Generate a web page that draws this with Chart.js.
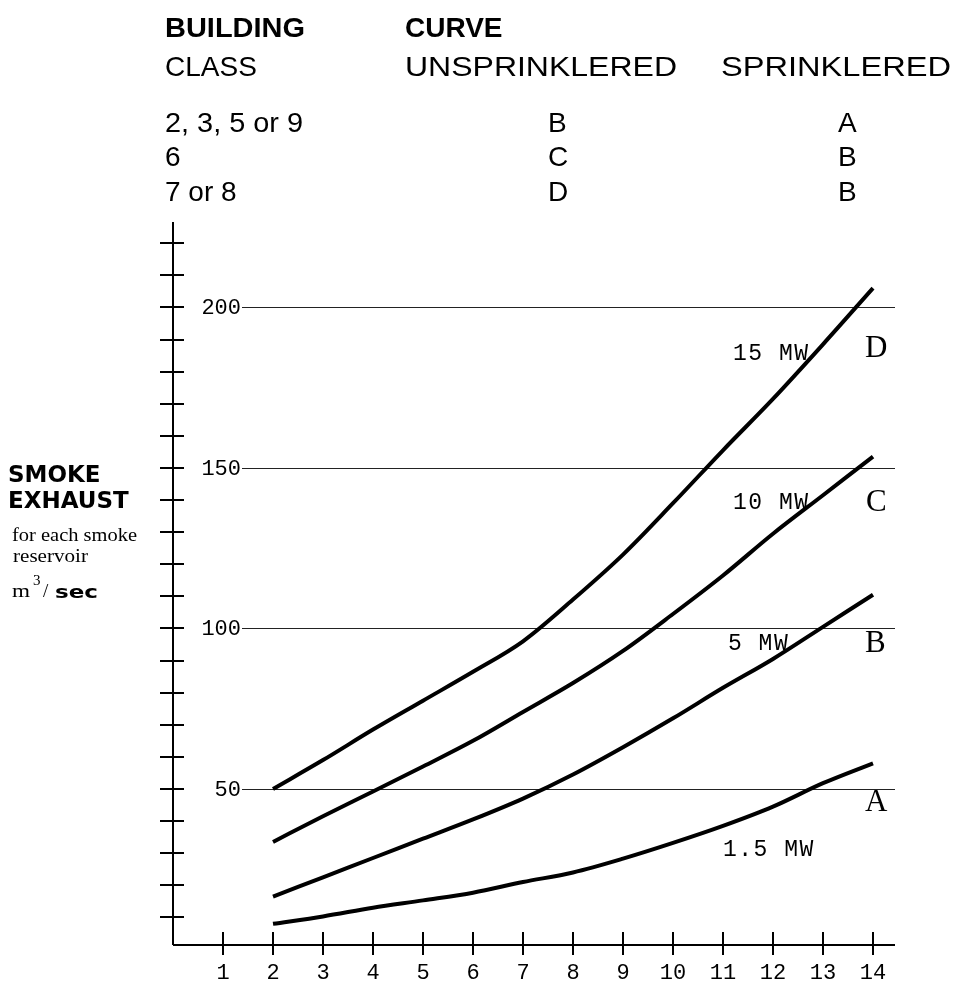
<!DOCTYPE html>
<html>
<head>
<meta charset="utf-8">
<script src="https://cdn.jsdelivr.net/npm/chart.js@4"></script>
<style>
  html, body { margin: 0; padding: 0; background: #fff; }
  #wrap { position: relative; width: 957px; height: 984px; }
  #smoke { position: absolute; left: 0; top: 0; }
  #overlay { position: absolute; left: 0; top: 0; pointer-events: none; }
  .hd  { font-family: "Liberation Sans", Arial, sans-serif; font-size: 28px; fill: #000; }
  .hdb { font-weight: bold; }
  .yt  { font-family: "DejaVu Sans", sans-serif; font-weight: bold; font-size: 23px; }
  .ys  { font-family: "Liberation Serif", serif; font-size: 19px; }
</style>
</head>
<body>
<div id="wrap">
  <canvas id="smoke" width="957" height="984"></canvas>
  <svg id="overlay" width="957" height="984">
    <!-- class / curve table above the chart -->
    <text class="hd hdb" x="165" y="37" textLength="140" lengthAdjust="spacingAndGlyphs">BUILDING</text>
    <text class="hd hdb" x="405" y="37">CURVE</text>
    <text class="hd" x="165" y="76">CLASS</text>
    <text class="hd" x="405" y="76" textLength="272" lengthAdjust="spacingAndGlyphs">UNSPRINKLERED</text>
    <text class="hd" x="721" y="76" textLength="230" lengthAdjust="spacingAndGlyphs">SPRINKLERED</text>
    <text class="hd" x="165" y="132" textLength="138" lengthAdjust="spacingAndGlyphs">2, 3, 5 or 9</text>
    <text class="hd" x="165" y="166">6</text>
    <text class="hd" x="165" y="201">7 or 8</text>
    <text class="hd" x="548" y="132">B</text>
    <text class="hd" x="548" y="166">C</text>
    <text class="hd" x="548" y="201">D</text>
    <text class="hd" x="838" y="132">A</text>
    <text class="hd" x="838" y="166">B</text>
    <text class="hd" x="838" y="201">B</text>
    <!-- y axis title -->
    <text class="yt" x="8" y="482">SMOKE</text>
    <text class="yt" x="8" y="508">EXHAUST</text>
    <text class="ys" x="12" y="541" textLength="125" lengthAdjust="spacingAndGlyphs">for each smoke</text>
    <text class="ys" x="13" y="562" textLength="75" lengthAdjust="spacingAndGlyphs">reservoir</text>
    <text class="ys" x="12" y="597" textLength="18" lengthAdjust="spacingAndGlyphs">m</text>
    <text class="ys" x="33" y="585" style="font-size:15px">3</text>
    <text class="ys" x="43" y="597">/</text>
    <text class="yt" x="55" y="598" style="font-size:17px" textLength="43" lengthAdjust="spacingAndGlyphs">sec</text>
  </svg>
</div>
<script>
/* ── Data ────────────────────────────────────────────────────────────────── */
const roomHeights = [2, 3, 4, 5, 6, 7, 8, 9, 10, 11, 12, 13, 14];

const curveA = [8, 10.3, 13, 15.3, 17.7, 21, 24, 28.3, 33.2, 38.5, 44.5, 51.8, 58];           // 1.5 MW
const curveB = [16.5, 22.5, 28.5, 34.5, 40.5, 47, 54.5, 63, 72, 81.5, 90.5, 100.5, 110.5];    // 5 MW
const curveC = [33.5, 41.5, 49.2, 57, 65, 74, 83, 93, 104.5, 116.5, 129.5, 141.5, 153.5];     // 10 MW
const curveD = [50, 59, 68.5, 77.5, 86.5, 96, 109, 123, 139, 155.5, 171.5, 188.5, 206];       // 15 MW

const xTickLabels  = [1, 2, 3, 4, 5, 6, 7, 8, 9, 10, 11, 12, 13, 14];
const yMinorTicks  = [10, 20, 30, 40, 50, 60, 70, 80, 90, 100, 110, 120, 130, 140, 150,
                      160, 170, 180, 190, 200, 210, 220];
const yTickLabels  = [50, 100, 150, 200];

const fireLabels   = ['1.5 MW', '5 MW', '10 MW', '15 MW'];
const curveLetters = ['A', 'B', 'C', 'D'];

/* label anchors in data units (left edge, vertical middle) */
const fireLabelPos   = [[11.0, 31], [11.1, 95.3], [11.2, 139], [11.2, 185.6]];
const letterLabelPos = [[13.84, 45.9], [13.84, 95.6], [13.86, 139.4], [13.84, 187.5]];

const pts = ys => roomHeights.map((x, i) => ({ x, y: ys[i] }));

/* ── Axes, ticks and annotations drawn through the scales ────────────────── */
const refAxes = {
  id: 'refAxes',
  beforeDatasetsDraw(chart) {
    const { ctx, scales: { x, y } } = chart;
    const x0 = x.getPixelForValue(0);
    const xEnd = x.right;
    const yBase = y.bottom;
    ctx.save();
    ctx.fillStyle = '#000';

    // horizontal reference lines, starting just after their label
    ctx.lineWidth = 1.2;
    ctx.strokeStyle = '#222';
    yTickLabels.forEach(v => {
      const py = Math.round(y.getPixelForValue(v)) + 0.5;
      ctx.beginPath();
      ctx.moveTo(x0 + 69, py);
      ctx.lineTo(xEnd, py);
      ctx.stroke();
    });

    ctx.strokeStyle = '#000';
    ctx.lineWidth = 2;
    // y axis
    ctx.beginPath();
    ctx.moveTo(x0, y.top);
    ctx.lineTo(x0, yBase);
    ctx.stroke();
    // x axis
    ctx.beginPath();
    ctx.moveTo(x0, yBase);
    ctx.lineTo(xEnd, yBase);
    ctx.stroke();

    // y ticks crossing the axis
    yMinorTicks.forEach(v => {
      const py = Math.round(y.getPixelForValue(v));
      ctx.beginPath();
      ctx.moveTo(x0 - 13, py);
      ctx.lineTo(x0 + 11, py);
      ctx.stroke();
    });
    // x ticks crossing the axis
    xTickLabels.forEach(v => {
      const px = Math.round(x.getPixelForValue(v));
      ctx.beginPath();
      ctx.moveTo(px, yBase - 13);
      ctx.lineTo(px, yBase + 10);
      ctx.stroke();
    });

    ctx.font = '22px "Liberation Mono", "DejaVu Sans Mono", monospace';
    ctx.textBaseline = 'middle';
    ctx.textAlign = 'right';
    yTickLabels.forEach(v => ctx.fillText(String(v), x0 + 68, y.getPixelForValue(v) + 1));

    ctx.textAlign = 'center';
    xTickLabels.forEach(v => ctx.fillText(String(v), x.getPixelForValue(v), yBase + 28));

    // fire size labels
    ctx.textAlign = 'left';
    ctx.font = '23px "Liberation Mono", monospace';
    if ('letterSpacing' in ctx) ctx.letterSpacing = '1.5px';
    fireLabels.forEach((t, i) => {
      const [lx, ly] = fireLabelPos[i];
      ctx.fillText(t, x.getPixelForValue(lx), y.getPixelForValue(ly));
    });
    if ('letterSpacing' in ctx) ctx.letterSpacing = '0px';

    // curve letters
    ctx.font = '31px "Liberation Serif", serif';
    curveLetters.forEach((t, i) => {
      const [lx, ly] = letterLabelPos[i];
      ctx.fillText(t, x.getPixelForValue(lx), y.getPixelForValue(ly) + 1);
    });
    ctx.restore();
  }
};

const lineStyle = {
  borderColor: '#000',
  borderWidth: 4,
  pointRadius: 0,
  fill: false,
  cubicInterpolationMode: 'monotone',
};

new Chart(document.getElementById('smoke'), {
  type: 'line',
  data: {
    datasets: [
      { label: 'A', data: pts(curveA), ...lineStyle },
      { label: 'B', data: pts(curveB), ...lineStyle },
      { label: 'C', data: pts(curveC), ...lineStyle },
      { label: 'D', data: pts(curveD), ...lineStyle },
    ]
  },
  options: {
    responsive: false,
    animation: false,
    devicePixelRatio: 1,
    layout: { padding: { left: 173, right: 62, top: 222, bottom: 39 } },
    plugins: { legend: { display: false }, tooltip: { enabled: false } },
    scales: {
      x: { type: 'linear', min: 0, max: 14.44, display: false },
      y: { type: 'linear', min: 1.4, max: 226.6, display: false }
    }
  },
  plugins: [refAxes]
});
</script>
</body>
</html>
